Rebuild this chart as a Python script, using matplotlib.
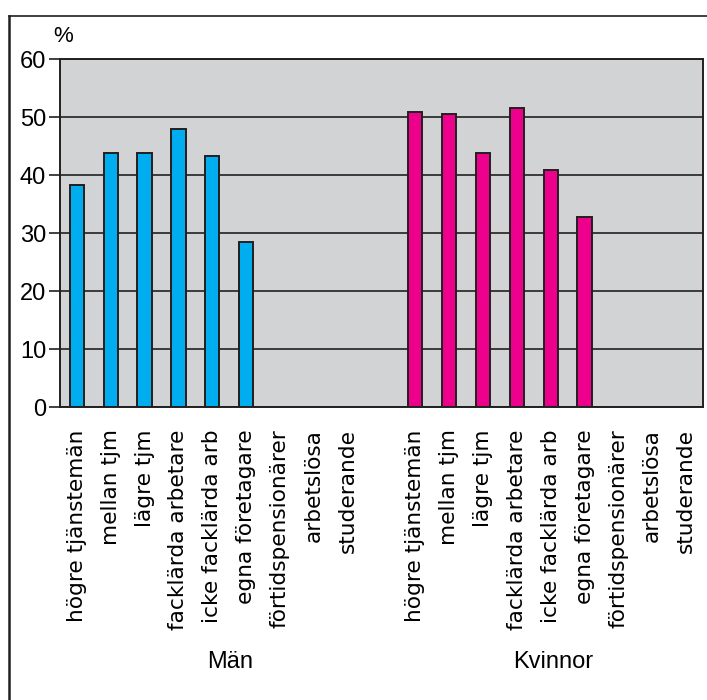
import numpy as np
import matplotlib
matplotlib.use("Agg")
import matplotlib.pyplot as plt
from matplotlib.lines import Line2D

plt.rcParams["font.family"] = ["Liberation Sans", "DejaVu Sans"]

categories = [
    "högre tjänstemän",
    "mellan tjm",
    "lägre tjm",
    "facklärda arbetare",
    "icke facklärda arb",
    "egna företagare",
    "förtidspensionärer",
    "arbetslösa",
    "studerande",
]
men = [38.3, 43.8, 43.8, 48.0, 43.2, 28.5, np.nan, np.nan, np.nan]
women = [50.9, 50.6, 43.8, 51.6, 40.8, 32.8, np.nan, np.nan, np.nan]
groups = ["Män", "Kvinnor"]
yticks = [0, 10, 20, 30, 40, 50, 60]

W, H = 707, 700
fig = plt.figure(figsize=(W / 100, H / 100), dpi=100)
ax = fig.add_axes([60 / W, 1 - 407 / H, 643 / W, 348 / H])
ax.set_facecolor("#d1d3d4")

n = len(categories)
x_men = np.arange(n)
x_women = np.arange(n) + n + 1

ax.set_axisbelow(True)
ax.yaxis.grid(True, color="#231f20", linewidth=1.2)
ax.bar(x_men, men, width=0.42, color="#00aeef", edgecolor="#231f20", linewidth=1.4)
ax.bar(x_women, women, width=0.42, color="#ec008c", edgecolor="#231f20", linewidth=1.4)

ax.set_xlim(-0.5, 2 * n + 0.5)
ax.set_ylim(0, 60)
ax.set_yticks(yticks)
ax.tick_params(axis="y", labelsize=17, length=8, width=1.2, color="#231f20", pad=2)
ax.set_xticks(list(x_men) + list(x_women))
ax.set_xticklabels(categories * 2, rotation=90, fontsize=15.6, family=["DejaVu Sans"])
ax.tick_params(axis="x", length=0, pad=16)

for side in ["left", "bottom", "right", "top"]:
    ax.spines[side].set_color("#231f20")
    ax.spines[side].set_linewidth(1.4)

fig.text(63 / W, 1 - 36 / H, "%", fontsize=16, ha="center", va="center")
fig.text(230 / W, 1 - 662 / H, groups[0], fontsize=17, ha="center", va="center")
fig.text(553 / W, 1 - 662 / H, groups[1], fontsize=17, ha="center", va="center")

# outer frame around the figure
fig.add_artist(Line2D([9 / W, 9 / W], [0, 1 - 16 / H], color="#231f20", linewidth=1.8))
fig.add_artist(Line2D([9 / W, 1], [1 - 16 / H, 1 - 16 / H], color="#231f20", linewidth=1.2))

fig.savefig("out.png", dpi=100)
